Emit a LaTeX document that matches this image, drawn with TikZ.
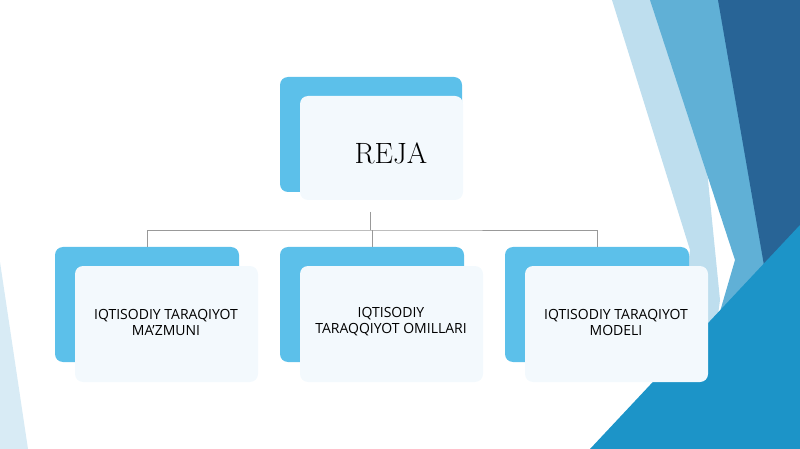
\documentclass[tikz,border=0pt]{standalone}
\usepackage{fontspec}
\setsansfont{Open Sans}
\usetikzlibrary{positioning}
\definecolor{rejablue}{RGB}{92,192,234}
\definecolor{rejapale}{RGB}{243,249,253}
\definecolor{bgpale}{RGB}{190,222,238}
\definecolor{bgmid}{RGB}{96,176,214}
\definecolor{bgdark}{RGB}{40,100,150}
\definecolor{bgbright}{RGB}{28,148,200}
\tikzset{
  x=0.75pt, y=-0.75pt,
  back/.style={fill=rejablue, rounded corners=6pt},
  front/.style={fill=rejapale, rounded corners=6pt},
  boxtext/.style={font=\sffamily\fontsize{10.5}{12}\selectfont, align=center, text=black},
  link/.style={draw=gray!80, line width=0.6pt},
}
\begin{document}
\begin{tikzpicture}
  \useasboundingbox (0,0) rectangle (800,449);
  % background shapes
  \fill[bgpale!60] (0,262) -- (28,449) -- (0,449) -- cycle;
  \fill[bgpale] (612,0) -- (690,0) -- (720,300) -- (700,449) -- (665,449) -- (690,250) -- cycle;
  \fill[bgmid] (650,0) -- (800,0) -- (800,449) -- (680,449) -- (735,260) -- cycle;
  \fill[bgdark] (718,0) -- (800,0) -- (800,280) -- (770,300) -- cycle;
  \fill[bgbright] (590,449) -- (800,225) -- (800,449) -- cycle;
  % top box
  \fill[back] (280,77) rectangle (462,192);
  \fill[front] (300,96) rectangle (463,200);
  \node[font=\rmfamily\fontsize{22}{24}\selectfont] (reja) at (391,153) {REJA};
  \coordinate (top) at (370,212);
  % bottom boxes
  \foreach \x/\name/\txt in {55/maz/{IQTISODIY TARAQIYOT\\MA'ZMUNI},
                              280/omil/{IQTISODIY\\TARAQQIYOT OMILLARI},
                              505/model/{IQTISODIY TARAQIYOT\\MODELI}} {
    \fill[back] (\x,247) rectangle ++(184,115);
    \fill[front] (\x+20,266) rectangle ++(183,116);
    \node[boxtext] (\name) at (\x+111,322) {\txt};
    \coordinate (\name-in) at (\x+92,247);
  }
  \coordinate (bus) at (370,230);
  \draw[link] (top) -- (bus);
  \draw[link] (maz-in) |- (bus) -| (model-in);
  \draw[link] (omil-in) -- (omil-in |- bus);
\end{tikzpicture}
\end{document}
